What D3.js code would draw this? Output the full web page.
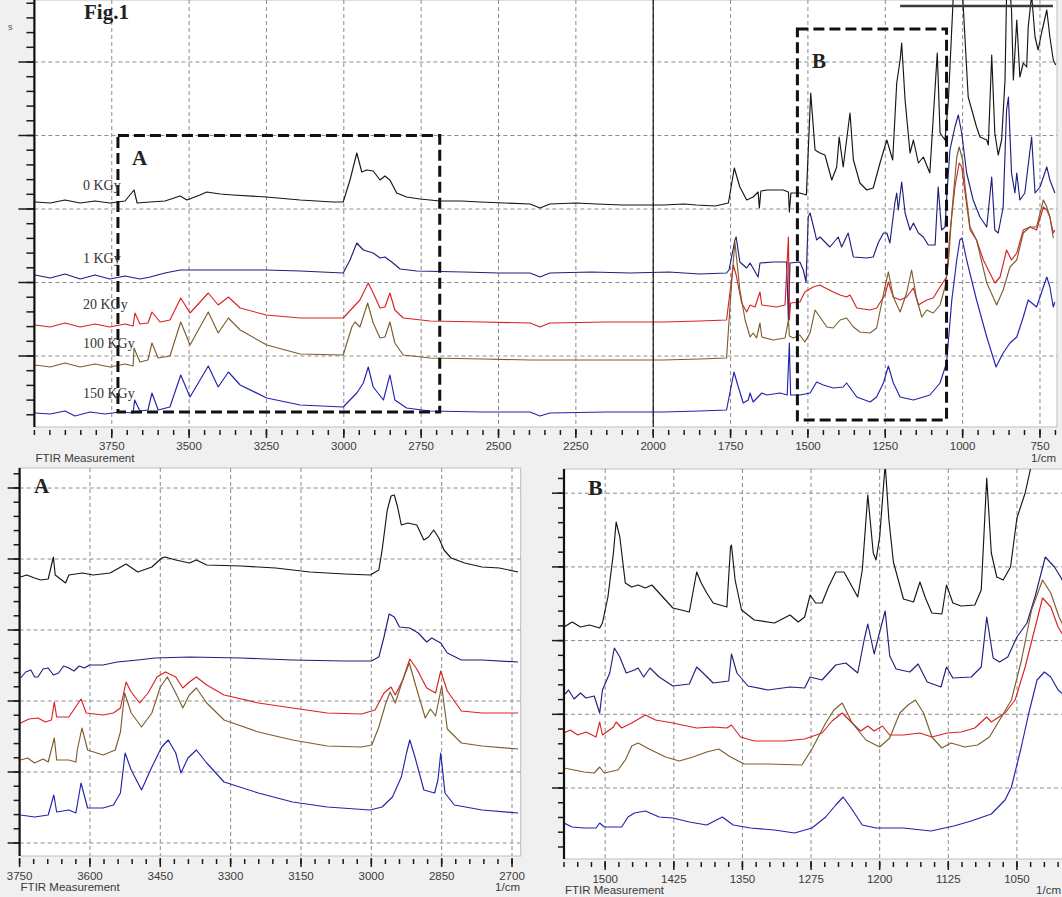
<!DOCTYPE html>
<html>
<head>
<meta charset="utf-8">
<script src="https://cdn.jsdelivr.net/npm/d3@7"></script>
<style>
  body { margin: 0; background: #f0f0f0; }
  svg { display: block; }
</style>
</head>
<body>
<script>
// ---- dose labels ----
const doses = ["0 KGy", "1 KGy", "20 KGy", "100 KGy", "150 KGy"];

// ---- tick labels (1/cm) ----
const topTicks = [3750, 3500, 3250, 3000, 2750, 2500, 2250, 2000, 1750, 1500, 1250, 1000, 750];
const aTicks = [3750, 3600, 3450, 3300, 3150, 3000, 2850, 2700];
const bTicks = [1500, 1425, 1350, 1275, 1200, 1125, 1050];

// ---- full range spectra [wavenumber, absorbance (a.u., offset)] ----
const full0 = [[3998,22.8],[3949,22.7],[3901,23.0],[3852,22.7],[3804,22.9],[3756,22.7],[3707,22.9],[3678,24.0],[3668,22.7],[3626,22.8],[3578,22.9],[3529,23.4],[3507,23.0],[3465,23.5],[3443,23.8],[3400,23.6],[3358,23.5],[3251,23.3],[3141,23.0],[3035,22.8],[3002,22.8],[2980,25.0],[2958,27.7],[2942,25.8],[2926,26.0],[2905,25.9],[2883,25.0],[2867,25.4],[2851,25.0],[2829,23.7],[2797,23.3],[2754,23.1],[2689,22.9],[2620,22.9],[2560,22.8],[2480,22.7],[2398,22.6],[2366,22.2],[2334,22.6],[2250,22.7],[2183,22.6],[2100,22.5],[1968,22.5],[1900,22.6],[1860,22.5],[1800,22.4],[1757,22.7],[1738,26.2],[1720,24.3],[1698,23.0],[1677,23.3],[1661,23.8],[1657,22.2],[1652,23.9],[1633,24.0],[1580,24.0],[1563,23.8],[1560,21.8],[1555,23.7],[1526,23.7],[1505,23.5],[1491,33.7],[1477,28.0],[1461,27.7],[1445,27.5],[1423,25.0],[1407,26.3],[1399,29.3],[1386,26.3],[1364,31.7],[1353,27.0],[1332,24.7],[1310,24.0],[1289,24.2],[1267,26.7],[1245,29.0],[1226,27.0],[1213,34.7],[1202,37.0],[1197,38.7],[1186,33.0],[1170,27.7],[1159,29.0],[1143,26.7],[1127,27.3],[1106,25.7],[1082,37.7],[1073,29.7],[1057,29.0],[1046,33.0],[1030,43.5],[1015,46],[1000,43.5],[982,33.3],[955,30.3],[944,29.3],[922,29.0],[917,28.5],[906,37.5],[896,29.7],[885,27.5],[874,29.0],[863,35.0],[858,43.5],[850,45],[842,42.0],[836,35.0],[825,41.0],[815,35.3],[804,36.7],[793,36.3],[788,40.3],[777,43.5],[766,39.3],[756,38.0],[745,39.7],[728,42.0],[718,39.3],[707,37.0],[699,36.5]];
const full1 = [[3998,15.5],[3949,15.2],[3901,15.6],[3852,15.1],[3804,15.5],[3756,15.1],[3707,15.4],[3659,15.1],[3626,15.3],[3578,15.7],[3529,16.0],[3400,16.0],[3251,16.0],[3141,15.9],[3002,15.7],[2980,17.0],[2958,18.7],[2937,18.0],[2905,17.7],[2883,17.2],[2867,17.3],[2845,16.8],[2818,16.1],[2764,15.9],[2614,15.8],[2500,15.7],[2398,15.7],[2366,15.3],[2334,15.7],[2200,15.8],[2075,15.7],[1950,15.8],[1850,15.6],[1763,15.7],[1755,16.0],[1736,19.0],[1732,19.3],[1720,16.8],[1698,16.2],[1687,16.7],[1661,15.3],[1655,16.7],[1612,16.8],[1569,16.8],[1563,11.0],[1558,16.7],[1526,16.8],[1515,16.0],[1506,14.8],[1499,21.3],[1493,21.7],[1477,19.7],[1472,19.0],[1461,19.3],[1429,18.3],[1402,19.3],[1391,18.3],[1370,19.7],[1353,17.3],[1310,17.2],[1289,17.3],[1273,18.7],[1256,19.7],[1245,19.7],[1235,18.7],[1219,22.7],[1213,23.7],[1208,22.0],[1197,24.8],[1186,21.7],[1170,20.0],[1159,20.7],[1143,19.7],[1127,19.3],[1111,18.5],[1089,18.5],[1079,24.3],[1068,20.0],[1057,20.3],[1052,23.0],[1041,28.0],[1025,30.3],[1014,31.5],[1003,29.7],[987,25.7],[966,23.0],[944,21.3],[922,20.3],[906,25.3],[896,20.0],[885,19.7],[869,22.3],[858,32.0],[852,33.3],[842,25.7],[831,23.7],[825,25.7],[815,23.0],[799,23.7],[777,29.3],[766,23.7],[750,24.3],[728,26.3],[718,25.0],[702,23.7]];
const full20 = [[3998,10.5],[3949,10.3],[3901,10.7],[3852,10.3],[3804,10.6],[3756,10.3],[3707,10.6],[3681,10.4],[3675,11.7],[3659,10.6],[3633,10.7],[3620,11.8],[3594,10.8],[3562,11.0],[3527,13.2],[3497,11.7],[3438,13.7],[3406,12.5],[3373,13.3],[3335,12.2],[3251,11.5],[3141,11.2],[3002,11.2],[2969,12.3],[2948,13.0],[2921,14.7],[2905,13.7],[2883,12.2],[2867,12.3],[2851,13.7],[2835,12.0],[2808,11.2],[2721,10.9],[2550,10.8],[2398,10.7],[2366,10.3],[2334,10.7],[2150,10.8],[1967,10.8],[1850,10.9],[1763,11.0],[1741,16.5],[1732,15.5],[1714,12.7],[1698,11.8],[1687,12.5],[1671,12.3],[1655,13.8],[1649,12.5],[1601,12.3],[1574,12.5],[1563,19.3],[1560,11.0],[1556,12.7],[1526,12.8],[1510,13.8],[1483,14.3],[1461,14.5],[1450,14.3],[1418,13.8],[1396,13.5],[1375,13.3],[1364,13.5],[1342,12.2],[1299,12.0],[1278,12.2],[1251,13.5],[1240,14.8],[1224,13.3],[1202,13.0],[1181,13.3],[1159,14.2],[1143,12.5],[1116,13.0],[1095,13.2],[1073,14.3],[1052,15.3],[1041,19.7],[1025,24.3],[1011,26.7],[1003,26.3],[992,23.7],[976,20.0],[955,19.0],[933,17.0],[912,15.7],[896,14.7],[879,15.3],[858,18.0],[842,17.0],[825,17.7],[804,20.0],[782,20.3],[761,20.0],[739,22.3],[728,22.0],[718,21.3],[707,19.7],[702,20.0]];
const full100 = [[3998,6.5],[3949,6.3],[3901,6.7],[3852,6.3],[3804,6.6],[3756,6.3],[3707,6.6],[3681,6.4],[3678,8.2],[3659,6.8],[3633,7.0],[3620,8.7],[3600,7.2],[3562,7.4],[3527,10.8],[3497,8.5],[3438,11.8],[3406,9.7],[3373,11.2],[3335,10.0],[3249,8.5],[3141,7.6],[3002,7.5],[2974,10.3],[2964,10.8],[2948,10.3],[2923,12.7],[2905,10.7],[2883,9.2],[2867,9.3],[2851,10.8],[2835,8.7],[2808,7.5],[2721,7.2],[2550,7.1],[2398,7.0],[2200,7.0],[1967,7.0],[1850,7.1],[1763,7.2],[1746,15.0],[1736,18.8],[1720,14.0],[1703,11.0],[1687,9.3],[1677,9.7],[1666,9.2],[1655,10.7],[1649,9.3],[1612,9.0],[1574,9.2],[1563,11.0],[1560,9.4],[1547,9.2],[1526,9.5],[1510,8.8],[1493,9.7],[1477,12.0],[1461,11.3],[1439,10.3],[1418,10.2],[1396,11.0],[1375,11.2],[1353,10.3],[1332,9.8],[1299,9.7],[1278,10.2],[1251,14.3],[1240,15.8],[1224,13.3],[1202,11.8],[1181,13.7],[1165,16.0],[1149,13.2],[1132,11.3],[1116,12.0],[1095,11.7],[1073,12.5],[1057,14.3],[1046,16.7],[1035,21.7],[1019,27.3],[1011,28.3],[1000,27.0],[992,24.3],[976,20.3],[955,19.0],[922,14.7],[890,12.5],[869,14.0],[847,16.3],[825,17.0],[804,19.7],[782,20.3],[761,20.3],[739,23.0],[728,22.3],[718,21.3],[707,19.2]];
const full150 = [[3998,1.7],[3949,1.6],[3901,1.9],[3869,1.4],[3820,1.8],[3772,1.6],[3723,1.8],[3681,1.7],[3676,3.0],[3659,1.9],[3633,2.0],[3620,3.7],[3600,2.0],[3562,2.3],[3527,5.5],[3497,3.3],[3438,6.4],[3406,4.3],[3373,5.8],[3335,4.5],[3249,3.2],[3141,2.5],[3002,2.3],[2958,3.7],[2937,4.7],[2921,6.3],[2905,4.3],[2872,3.0],[2851,5.5],[2835,3.0],[2797,2.2],[2721,1.9],[2550,1.8],[2398,1.8],[2366,1.4],[2334,1.7],[2150,1.8],[1967,1.8],[1850,1.9],[1763,2.0],[1739,5.8],[1725,4.3],[1709,2.7],[1693,3.0],[1687,3.7],[1677,2.8],[1649,3.7],[1633,3.5],[1590,3.7],[1567,3.5],[1560,8.7],[1556,3.5],[1526,3.5],[1493,3.7],[1472,4.8],[1450,4.5],[1418,4.2],[1386,4.3],[1375,4.7],[1342,3.3],[1299,2.8],[1278,3.3],[1256,4.7],[1240,6.4],[1224,4.7],[1202,3.3],[1159,3.0],[1106,3.5],[1073,4.7],[1052,6.7],[1035,13.0],[1019,17.0],[1009,19.0],[1002,19.2],[987,17.0],[955,13.0],[922,9.3],[892,6.3],[869,7.7],[847,8.7],[825,9.3],[804,11.3],[788,13.0],[761,12.3],[739,14.3],[728,15.3],[718,14.3],[707,12.3],[702,12.8]];

// ---- region A (3750-2700) ----
const regA0 = [[3748,27.9],[3735,28.1],[3718,27.8],[3705,27.6],[3689,27.7],[3678,29.9],[3674,28.1],[3652,27.3],[3645,28.1],[3616,28.3],[3593,28.1],[3557,28.3],[3523,29.2],[3498,28.4],[3468,28.9],[3447,29.8],[3440,29.9],[3417,29.6],[3388,29.3],[3373,29.6],[3351,29.1],[3278,29.0],[3204,28.8],[3131,28.4],[3057,28.2],[3002,28.1],[2984,28.6],[2977,30.6],[2966,34.6],[2958,36.0],[2951,36.1],[2944,34.9],[2936,33.1],[2922,33.3],[2903,33.1],[2888,31.6],[2878,31.9],[2867,32.6],[2856,31.8],[2845,30.6],[2830,29.8],[2801,29.3],[2764,28.9],[2727,28.8],[2687,28.4]];
const regA1 = [[3748,17.8],[3737,18.4],[3726,18.6],[3718,17.9],[3711,17.9],[3700,18.7],[3689,18.8],[3678,18.1],[3667,18.3],[3656,19.0],[3645,18.8],[3634,18.5],[3623,19.0],[3612,18.8],[3601,19.1],[3572,19.1],[3542,19.4],[3498,19.6],[3461,19.8],[3388,19.9],[3278,19.8],[3168,19.6],[3058,19.5],[3000,19.5],[2984,19.9],[2973,21.9],[2962,24.2],[2951,23.9],[2940,22.9],[2918,22.8],[2900,22.3],[2882,21.4],[2871,21.8],[2852,21.3],[2838,20.3],[2808,19.6],[2764,19.6],[2687,19.4]];
const regA20 = [[3748,13.3],[3730,13.7],[3711,13.8],[3695,13.4],[3682,13.6],[3676,15.4],[3671,13.9],[3645,13.9],[3619,15.7],[3608,14.3],[3572,14.1],[3550,14.3],[3535,14.8],[3523,17.4],[3512,16.4],[3494,15.3],[3476,16.3],[3457,17.9],[3439,18.4],[3417,17.9],[3402,16.8],[3388,17.4],[3373,17.9],[3351,17.1],[3314,16.1],[3241,15.3],[3168,14.8],[3094,14.3],[3021,14.2],[2992,14.6],[2973,16.3],[2958,16.9],[2949,16.1],[2933,17.6],[2918,19.7],[2903,18.7],[2882,16.8],[2863,16.3],[2852,18.5],[2838,16.5],[2808,14.5],[2764,14.3],[2687,14.3]];
const regA100 = [[3748,9.6],[3733,9.8],[3718,9.3],[3700,9.7],[3689,9.4],[3676,11.8],[3671,9.6],[3645,9.6],[3630,9.4],[3627,10.6],[3617,12.8],[3605,10.6],[3572,10.1],[3546,10.6],[3535,12.4],[3526,16.3],[3512,14.3],[3490,12.9],[3468,14.3],[3450,16.9],[3435,17.9],[3417,16.3],[3402,14.8],[3388,16.1],[3373,16.8],[3351,15.3],[3314,13.6],[3241,12.4],[3168,11.6],[3094,11.0],[3021,10.9],[2999,11.1],[2984,12.9],[2969,15.3],[2960,16.4],[2949,15.3],[2933,17.6],[2919,19.3],[2907,17.3],[2885,13.8],[2874,14.7],[2863,14.0],[2850,17.0],[2838,12.7],[2808,11.3],[2764,11.0],[2687,10.7]];
const regA150 = [[3748,4.1],[3718,3.9],[3689,4.1],[3677,6.1],[3671,4.4],[3645,4.6],[3630,4.3],[3619,7.3],[3605,4.8],[3572,4.8],[3550,5.1],[3535,6.3],[3525,10.3],[3512,8.6],[3490,6.6],[3468,8.9],[3447,10.9],[3433,11.6],[3417,10.3],[3406,8.3],[3391,9.8],[3373,10.6],[3351,9.3],[3314,7.4],[3241,6.3],[3168,5.4],[3094,4.9],[3003,4.6],[2977,4.9],[2955,5.9],[2936,7.9],[2925,10.3],[2918,11.6],[2907,9.9],[2888,6.6],[2865,6.3],[2858,7.6],[2852,10.3],[2843,6.3],[2823,5.1],[2764,4.6],[2687,4.3]];

// ---- region B (1545-1000) ----
const regB0 = [[1545,23.2],[1536,23.7],[1527,23.2],[1517,23.4],[1506,23.1],[1503,23.6],[1497,26.2],[1491,30.6],[1488,33.7],[1484,32.2],[1478,27.6],[1471,27.2],[1464,27.4],[1456,27.1],[1449,27.4],[1441,26.6],[1426,25.1],[1408,24.7],[1400,28.7],[1395,27.6],[1389,26.6],[1382,25.6],[1367,25.2],[1363,31.2],[1362,31.4],[1358,27.9],[1351,24.9],[1337,23.9],[1315,23.6],[1298,24.4],[1289,23.7],[1282,24.2],[1276,26.4],[1270,25.6],[1263,25.6],[1256,27.2],[1248,28.7],[1239,28.7],[1230,27.2],[1224,26.2],[1219,28.9],[1213,36.4],[1207,30.6],[1204,29.9],[1200,32.2],[1194,39.5],[1190,34.0],[1185,29.7],[1174,26.0],[1163,25.7],[1156,27.7],[1150,26.1],[1143,24.6],[1132,24.5],[1127,27.4],[1120,25.6],[1111,25.3],[1096,25.4],[1089,26.9],[1083,38.1],[1078,30.6],[1072,28.2],[1065,27.9],[1057,29.2],[1050,34.1],[1041,36.6],[1034,39.5],[1025,42]];
const regB1 = [[1545,16.4],[1540,16.9],[1534,16.0],[1527,16.6],[1521,16.1],[1512,16.3],[1506,14.6],[1503,16.9],[1495,18.6],[1490,21.1],[1484,20.2],[1477,18.6],[1468,18.9],[1464,19.1],[1458,18.2],[1451,19.1],[1441,18.2],[1426,17.3],[1408,17.5],[1400,19.2],[1393,18.6],[1382,17.6],[1365,17.8],[1362,20.5],[1356,18.6],[1344,17.3],[1322,16.9],[1298,17.2],[1282,17.1],[1276,18.2],[1263,17.9],[1248,19.4],[1237,19.6],[1224,18.6],[1217,21.9],[1213,23.5],[1206,20.5],[1200,22.7],[1194,24.8],[1189,20.3],[1182,19.0],[1167,18.7],[1158,19.5],[1148,17.7],[1133,17.2],[1127,19.2],[1120,18.1],[1100,18.2],[1089,19.2],[1083,24.2],[1076,20.1],[1069,19.7],[1060,20.2],[1050,22.2],[1039,23.6],[1030,26.3],[1019,30.2],[1009,29.2],[1001,28.0],[995,26.5]];
const regB20 = [[1545,12.6],[1538,12.9],[1530,12.4],[1521,12.7],[1510,12.2],[1506,13.7],[1503,12.4],[1491,13.2],[1488,13.7],[1482,13.1],[1471,13.6],[1456,14.4],[1445,13.9],[1426,13.6],[1416,13.4],[1400,13.1],[1382,13.2],[1367,13.1],[1362,13.4],[1352,12.2],[1337,11.8],[1304,11.8],[1282,12.0],[1263,12.6],[1252,13.8],[1241,14.6],[1230,13.6],[1221,12.8],[1213,13.3],[1206,12.8],[1197,13.3],[1189,12.4],[1174,12.4],[1156,12.6],[1143,12.2],[1126,12.6],[1111,12.7],[1096,13.1],[1083,14.2],[1078,13.7],[1063,14.6],[1052,15.9],[1041,19.2],[1030,23.2],[1022,26.1],[1013,25.2],[1005,23.2],[1001,22.6],[995,21.5]];
const regB100 = [[1545,9.1],[1534,8.9],[1523,8.7],[1512,8.6],[1506,9.2],[1501,8.6],[1486,8.9],[1478,9.9],[1471,11.3],[1464,11.6],[1452,11.0],[1434,10.2],[1419,9.8],[1404,10.2],[1389,10.7],[1376,11.0],[1363,10.2],[1348,9.5],[1322,9.5],[1285,9.4],[1274,11.0],[1259,13.6],[1250,14.9],[1241,15.6],[1230,13.6],[1215,11.9],[1200,11.2],[1189,12.1],[1178,14.6],[1169,15.4],[1161,15.9],[1152,14.6],[1143,12.2],[1132,11.1],[1122,11.6],[1107,11.2],[1093,11.4],[1080,12.2],[1067,14.2],[1056,15.9],[1045,19.9],[1034,24.9],[1022,27.9],[1013,26.6],[1004,24.2],[995,22.5]];
const regB150 = [[1545,3.6],[1536,3.2],[1523,3.1],[1510,3.1],[1506,3.6],[1501,3.2],[1482,3.2],[1475,4.2],[1468,4.6],[1456,4.8],[1441,4.2],[1426,4.1],[1408,3.7],[1389,3.4],[1372,4.2],[1360,3.4],[1341,3.1],[1315,2.9],[1293,2.6],[1274,3.1],[1259,4.2],[1248,5.4],[1240,6.2],[1232,5.2],[1219,3.4],[1204,3.1],[1174,3.1],[1144,2.8],[1119,3.3],[1100,3.8],[1078,4.5],[1063,5.9],[1056,7.2],[1046,10.9],[1037,14.6],[1028,17.9],[1020,18.7],[1013,18.2],[1005,16.9],[1001,16.6],[995,16.0]];

// zoom windows marked on the full spectrum (1/cm, a.u.)
const zoomA = { from: 3730, to: 2690, hi: 29.45, lo: 1.8 };
const zoomB = { from: 1534, to: 1052, hi: 40.1, lo: 1.0 };

var colors = ["#161616", "#20207e", "#d92222", "#7e5e2e", "#2323ae"];

var svg = d3.select("body").append("svg")
    .attr("width", 1062)
    .attr("height", 897);

svg.append("rect").attr("width", 1062).attr("height", 897).attr("fill", "#f0f0f0");

var panels = [
  { id: "top", left: 34.4, right: 1057, top: 0, bottom: 427,
    xDomain: [4000, 695], yDomain: [0.3, 43],
    ticks: topTicks, minorStep: 50, grid0: 7.4, gridStep: 7.35, majorLen: 16, minorLen: 8,
    series: [full0, full1, full20, full100, full150], labelY: 450, unitY: 462, unitX: 1056, unitAnchor: "end" },
  { id: "a", left: 19.6, right: 520.7, top: 468, bottom: 856,
    xDomain: [3750, 2681.5], yDomain: [0, 38.8],
    ticks: aTicks, minorStep: 30, grid0: 1.3, gridStep: 7.1, majorLen: 12, minorLen: 6,
    series: [regA0, regA1, regA20, regA100, regA150], labelY: 880, unitY: 891, unitX: 520, unitAnchor: "end" },
  { id: "b", left: 564, right: 1070, top: 469, bottom: 859,
    xDomain: [1545, 992], yDomain: [0, 39],
    ticks: bTicks, minorStep: 15, grid0: 7.1, gridStep: 7.37, majorLen: 12, minorLen: 6,
    series: [regB0, regB1, regB20, regB100, regB150], labelY: 883, unitY: 894, unitX: 1061, unitAnchor: "end" }
];

var scales = {};

panels.forEach(function (p) {
  var x = d3.scaleLinear().domain(p.xDomain).range([p.left, p.right]);
  var y = d3.scaleLinear().domain(p.yDomain).range([p.bottom, p.top]);
  scales[p.id] = { x: x, y: y };
  var g = svg.append("g");

  // plot area
  g.append("rect")
      .attr("x", p.left).attr("y", p.top)
      .attr("width", p.right - p.left).attr("height", p.bottom - p.top)
      .attr("fill", "#fff").attr("stroke", "#bdbdbd");

  g.append("clipPath").attr("id", "clip-" + p.id)
    .append("rect")
      .attr("x", p.left).attr("y", p.top)
      .attr("width", p.right - p.left).attr("height", p.bottom - p.top);

  // grid
  var yGrid = d3.range(p.grid0, p.yDomain[1], p.gridStep);
  var yMinor = d3.range(p.grid0 - p.gridStep, p.yDomain[1], p.gridStep / 5)
      .filter(function (v) { return v >= p.yDomain[0] && v <= p.yDomain[1]; });

  g.selectAll(".vgrid").data(p.ticks).enter().append("line")
      .attr("x1", function (d) { return x(d); }).attr("x2", function (d) { return x(d); })
      .attr("y1", p.top).attr("y2", p.bottom)
      .attr("stroke", "#8c8c8c").attr("stroke-dasharray", "4,3");
  g.selectAll(".hgrid").data(yGrid).enter().append("line")
      .attr("x1", p.left).attr("x2", p.right)
      .attr("y1", function (d) { return y(d); }).attr("y2", function (d) { return y(d); })
      .attr("stroke", "#8c8c8c").attr("stroke-dasharray", "4,3");

  // y ticks (left of axis)
  g.selectAll(".ymin").data(yMinor).enter().append("line")
      .attr("x1", p.left - p.minorLen).attr("x2", p.left)
      .attr("y1", function (d) { return y(d); }).attr("y2", function (d) { return y(d); })
      .attr("stroke", "#1a1a1a").attr("stroke-width", 1.5);
  g.selectAll(".ymaj").data(yGrid).enter().append("line")
      .attr("x1", p.left - p.majorLen).attr("x2", p.left)
      .attr("y1", function (d) { return y(d); }).attr("y2", function (d) { return y(d); })
      .attr("stroke", "#1a1a1a").attr("stroke-width", 1.5);

  // x ticks (below plot)
  var lo = Math.min(p.xDomain[0], p.xDomain[1]), hi = Math.max(p.xDomain[0], p.xDomain[1]);
  var xMinor = d3.range(Math.floor(hi / p.minorStep) * p.minorStep, lo, -p.minorStep);
  g.selectAll(".xmin").data(xMinor).enter().append("line")
      .attr("x1", function (d) { return x(d); }).attr("x2", function (d) { return x(d); })
      .attr("y1", p.bottom + 3).attr("y2", p.bottom + 8)
      .attr("stroke", "#1a1a1a").attr("stroke-width", 1.5);
  g.selectAll(".xmaj").data(p.ticks).enter().append("line")
      .attr("x1", function (d) { return x(d); }).attr("x2", function (d) { return x(d); })
      .attr("y1", p.bottom + 2).attr("y2", p.bottom + 11)
      .attr("stroke", "#1a1a1a").attr("stroke-width", 1.5);
  g.selectAll(".xlab").data(p.ticks).enter().append("text")
      .attr("x", function (d) { return x(d); }).attr("y", p.labelY)
      .attr("text-anchor", "middle")
      .style("font", "11.5px 'Liberation Sans', Arial, sans-serif")
      .attr("fill", "#3a3a3a")
      .text(function (d) { return d; });

  g.append("text").attr("x", p.left + 1).attr("y", p.unitY)
      .style("font", "11.5px 'Liberation Sans', Arial, sans-serif").attr("fill", "#3a3a3a")
      .text("FTIR Measurement");
  g.append("text").attr("x", p.unitX).attr("y", p.unitY).attr("text-anchor", p.unitAnchor)
      .style("font", "11.5px 'Liberation Sans', Arial, sans-serif").attr("fill", "#3a3a3a")
      .text("1/cm");

  // spectra
  var line = d3.line()
      .x(function (d) { return x(d[0]); })
      .y(function (d) { return y(d[1]); });
  var lines = g.append("g").attr("clip-path", "url(#clip-" + p.id + ")");
  p.series.forEach(function (s, i) {
    lines.append("path").datum(s)
        .attr("d", line)
        .attr("fill", "none")
        .attr("stroke", colors[i])
        .attr("stroke-width", 1.15)
        .attr("stroke-linejoin", "round");
  });

  // y axis
  g.append("line")
      .attr("x1", p.left).attr("x2", p.left)
      .attr("y1", p.top).attr("y2", p.bottom)
      .attr("stroke", "#111").attr("stroke-width", 2.2);
});

// ---- overview panel annotations ----
var xt = scales.top.x, yt = scales.top.y;

// cursor line at 2000
svg.append("line")
    .attr("x1", xt(2000)).attr("x2", xt(2000))
    .attr("y1", 0).attr("y2", 427)
    .attr("stroke", "#111").attr("stroke-width", 1.2);

// clipped trace at the top edge
svg.append("line")
    .attr("x1", xt(1202)).attr("x2", xt(708))
    .attr("y1", yt(42.4)).attr("y2", yt(42.4))
    .attr("stroke", "#3a3a3a").attr("stroke-width", 2.5);

[zoomA, zoomB].forEach(function (z) {
  svg.append("rect")
      .attr("x", xt(z.from)).attr("y", yt(z.hi))
      .attr("width", xt(z.to) - xt(z.from)).attr("height", yt(z.lo) - yt(z.hi))
      .attr("fill", "none").attr("stroke", "#111")
      .attr("stroke-width", 3).attr("stroke-dasharray", "11,5");
});

var serif = "'Liberation Serif', 'Times New Roman', serif";
svg.selectAll(".dose").data(doses).enter().append("text")
    .attr("x", 83)
    .attr("y", function (d, i) { return [190, 263, 309, 348, 398][i]; })
    .style("font", "14px " + serif).attr("fill", "#333")
    .text(function (d) { return d; });

function bigLabel(t, x, y, size) {
  svg.append("text").attr("x", x).attr("y", y)
      .style("font", "bold " + size + "px " + serif).attr("fill", "#222")
      .text(t);
}
bigLabel("A", 132, 165, 21);
bigLabel("B", 812, 68, 21);
bigLabel("A", 34, 493, 21);
bigLabel("B", 588, 495, 22);
bigLabel("Fig.1", 84, 19, 21);

svg.append("text").attr("x", 8).attr("y", 30)
    .style("font", "9px 'Liberation Sans', Arial, sans-serif").attr("fill", "#555")
    .text("s");
</script>
</body>
</html>
